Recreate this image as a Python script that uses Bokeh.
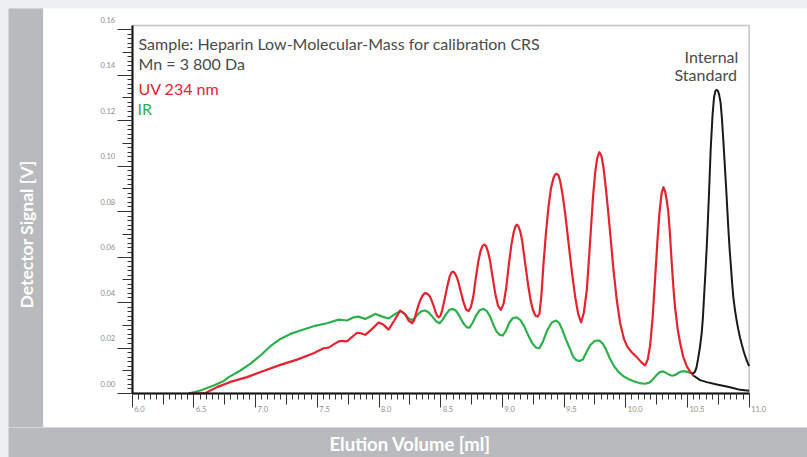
import math
from bokeh.plotting import figure
from bokeh.models import (Range1d, FixedTicker, LinearAxis, Label, LabelSet, ColumnDataSource,
                          BoxAnnotation)
from bokeh.layouts import row, column
from bokeh.embed import file_html
from bokeh.resources import INLINE
from bokeh.core.properties import value

# ---------------- data ----------------
uv_x = [6.456, 6.553, 6.594, 6.688, 6.796, 6.931, 7.063, 7.201, 7.336, 7.470, 7.551, 7.592, 7.630,
        7.673, 7.703, 7.741, 7.776, 7.822, 7.857, 7.889, 7.938, 7.997, 8.035, 8.078, 8.124, 8.172,
        8.213, 8.240, 8.267, 8.285, 8.302, 8.318, 8.334, 8.352, 8.368, 8.383, 8.398, 8.411, 8.423,
        8.440, 8.456, 8.470, 8.483, 8.498, 8.513, 8.533, 8.553, 8.573, 8.588, 8.599, 8.612, 8.627,
        8.642, 8.662, 8.683, 8.705, 8.726, 8.745, 8.764, 8.784, 8.804, 8.822, 8.838, 8.853, 8.868,
        8.885, 8.901, 8.921, 8.942, 8.965, 8.988, 9.010, 9.031, 9.051, 9.071, 9.090, 9.104, 9.117,
        9.130, 9.145, 9.160, 9.185, 9.209, 9.230, 9.249, 9.268, 9.284, 9.300, 9.316, 9.333, 9.353,
        9.373, 9.393, 9.414, 9.428, 9.441, 9.455, 9.468, 9.488, 9.509, 9.529, 9.549, 9.570, 9.590,
        9.614, 9.638, 9.660, 9.684, 9.700, 9.717, 9.734, 9.751, 9.768, 9.786, 9.802, 9.819, 9.839,
        9.859, 9.880, 9.900, 9.927, 9.954, 9.985, 10.013, 10.050, 10.089, 10.125, 10.156, 10.178,
        10.197, 10.217, 10.237, 10.255, 10.272, 10.290, 10.305, 10.320, 10.333, 10.345, 10.358,
        10.372, 10.386, 10.399, 10.420, 10.440, 10.466, 10.494, 10.520, 10.547]
uv_y = [0.0, 0.0001, 0.0002, 0.0028, 0.0051, 0.0072, 0.0099, 0.0126, 0.0149, 0.0177, 0.0199, 0.0202,
        0.0215, 0.0229, 0.0231, 0.0229, 0.0246, 0.0267, 0.0264, 0.0258, 0.0281, 0.0312, 0.0303,
        0.0281, 0.0321, 0.0365, 0.0347, 0.0320, 0.0309, 0.0322, 0.0356, 0.0385, 0.0409, 0.0430,
        0.0440, 0.0441, 0.0436, 0.0428, 0.0414, 0.0390, 0.0362, 0.0342, 0.0335, 0.0342, 0.0368,
        0.0418, 0.0470, 0.0515, 0.0532, 0.0536, 0.0531, 0.0516, 0.0493, 0.0450, 0.0405, 0.0370,
        0.0362, 0.0380, 0.0426, 0.0505, 0.0578, 0.0625, 0.0648, 0.0655, 0.0648, 0.0620, 0.0580,
        0.0510, 0.0440, 0.0385, 0.0368, 0.0395, 0.0465, 0.0560, 0.0648, 0.0705, 0.0733, 0.0742,
        0.0735, 0.0712, 0.0672, 0.0570, 0.0475, 0.0405, 0.0365, 0.0342, 0.0338, 0.0350, 0.0430,
        0.0570, 0.0705, 0.0819, 0.0900, 0.0948, 0.0963, 0.0966, 0.0958, 0.0935, 0.0872, 0.0790,
        0.0695, 0.0600, 0.0505, 0.0425, 0.0350, 0.0313, 0.0355, 0.0455, 0.0580, 0.0720, 0.0860,
        0.0968, 0.1035, 0.1061, 0.1045, 0.0995, 0.0900, 0.0790, 0.0665, 0.0545, 0.0410, 0.0310,
        0.0240, 0.0205, 0.0180, 0.0160, 0.0138, 0.0123, 0.0150, 0.0210, 0.0330, 0.0500, 0.0660,
        0.0790, 0.0880, 0.0907, 0.0885, 0.0845, 0.0795, 0.0700, 0.0575, 0.0465, 0.0380, 0.0285,
        0.0222, 0.0160, 0.0120, 0.0097, 0.0079]

uv_tail_x = [10.547, 10.602, 10.656, 10.737, 10.818, 10.869, 10.926, 11.0]
uv_tail_y = [0.0079, 0.0059, 0.0050, 0.0040, 0.0031, 0.0024, 0.0016, 0.0012]

ir_x = [6.456, 6.553, 6.661, 6.742, 6.782, 6.877, 6.958, 7.039, 7.120, 7.201, 7.282, 7.363, 7.470,
        7.579, 7.673, 7.741, 7.794, 7.832, 7.889, 7.970, 8.027, 8.078, 8.124, 8.172, 8.192, 8.213,
        8.240, 8.267, 8.292, 8.318, 8.345, 8.375, 8.403, 8.432, 8.462, 8.491, 8.518, 8.545, 8.570,
        8.596, 8.620, 8.642, 8.667, 8.691, 8.713, 8.734, 8.760, 8.788, 8.818, 8.847, 8.874, 8.901,
        8.925, 8.950, 8.977, 9.004, 9.030, 9.055, 9.085, 9.117, 9.147, 9.177, 9.210, 9.241, 9.270,
        9.300, 9.330, 9.363, 9.400, 9.436, 9.460, 9.484, 9.515, 9.549, 9.575, 9.598, 9.625, 9.652,
        9.680, 9.711, 9.750, 9.786, 9.815, 9.840, 9.870, 9.905, 9.940, 9.981, 10.020, 10.059,
        10.110, 10.156, 10.190, 10.213, 10.235, 10.253, 10.275, 10.300, 10.322, 10.343, 10.365,
        10.385, 10.405, 10.424, 10.445, 10.466, 10.490, 10.505, 10.534]
ir_y = [0.0, 0.0013, 0.0035, 0.0055, 0.0072, 0.0101, 0.0131, 0.0167, 0.0208, 0.0240, 0.0262, 0.0277,
        0.0296, 0.0309, 0.0325, 0.0321, 0.0335, 0.0338, 0.0328, 0.0350, 0.0338, 0.0330, 0.0347,
        0.0362, 0.0358, 0.0347, 0.0330, 0.0323, 0.0333, 0.0350, 0.0362, 0.0365, 0.0356, 0.0338,
        0.0318, 0.0309, 0.0326, 0.0350, 0.0367, 0.0372, 0.0366, 0.0350, 0.0325, 0.0303, 0.0291,
        0.0289, 0.0312, 0.0345, 0.0367, 0.0372, 0.0362, 0.0338, 0.0305, 0.0275, 0.0258, 0.0255,
        0.0278, 0.0310, 0.0332, 0.0335, 0.0322, 0.0295, 0.0255, 0.0222, 0.0203, 0.0199, 0.0230,
        0.0278, 0.0312, 0.0321, 0.0310, 0.0282, 0.0238, 0.0194, 0.0160, 0.0147, 0.0143, 0.0150,
        0.0180, 0.0212, 0.0232, 0.0233, 0.0218, 0.0193, 0.0155, 0.0120, 0.0095, 0.0076, 0.0064,
        0.0055, 0.0046, 0.0043, 0.0048, 0.0058, 0.0072, 0.0083, 0.0094, 0.0097, 0.0092, 0.0085,
        0.0080, 0.0079, 0.0083, 0.0090, 0.0096, 0.0098, 0.0096, 0.0094, 0.0089]

std_x = [10.534, 10.550, 10.561, 10.573, 10.585, 10.600, 10.615, 10.625, 10.634, 10.645, 10.656,
         10.666, 10.675, 10.688, 10.703, 10.715, 10.726, 10.737, 10.747, 10.756, 10.768, 10.779,
         10.790, 10.801, 10.812, 10.822, 10.831, 10.842, 10.853, 10.862, 10.871, 10.884, 10.897,
         10.911, 10.926, 10.940, 10.954, 10.967, 10.980, 10.990, 11.0]
std_y = [0.0089, 0.0090, 0.0096, 0.0115, 0.0150, 0.0200, 0.0265, 0.0335, 0.0425, 0.0530, 0.0645,
         0.0770, 0.0890, 0.1075, 0.1225, 0.1302, 0.1330, 0.1335, 0.1330, 0.1314, 0.1280, 0.1210,
         0.1115, 0.1015, 0.0915, 0.0815, 0.0725, 0.0630, 0.0550, 0.0483, 0.0425, 0.0370, 0.0325,
         0.0283, 0.0245, 0.0215, 0.0188, 0.0165, 0.0146, 0.0132, 0.0120]

x_major = [6.0, 6.5, 7.0, 7.5, 8.0, 8.5, 9.0, 9.5, 10.0, 10.5, 11.0]
x_labels = ["6.0", "6.5", "7.0", "7.5", "8.0", "8.5", "9.0", "9.5", "10.0", "10.5", "11.0"]
y_major = [0.0, 0.02, 0.04, 0.06, 0.08, 0.10, 0.12, 0.14, 0.16]
y_labels = ["0.00", "0.02", "0.04", "0.06", "0.08", "0.10", "0.12", "0.14", "0.16"]

x_mid = [v + 0.25 for v in x_major[:-1]]
x_minor = [round(6.0 + 0.05 * k, 3) for k in range(101)]
y_mid = [v + 0.01 for v in y_major[:-1]]
y_minor = [round(0.002 * k, 4) for k in range(81)]

RED = "#e52330"
GREEN = "#2db04b"
BLACK = "#1a1a1a"
STRIP = "#b9babd"
TXT = "#4a4a4a"
TICKTXT = "#8c8c8c"
FONT = "Lato"

# axis box (data extent) and its placement inside the white panel
X0, X1 = 6.0, 11.0
Y0, Y1 = 0.0, 0.1618
W, H = 764, 419                    # white panel size
FX, FY = 617, 368                  # axis box size in px
LEFT_PX, BOTTOM_PX = 88.7, 34      # axis box offset inside the panel
kx = FX / (X1 - X0)
ky = FY / (Y1 - Y0)
xr = Range1d(X0 - LEFT_PX / kx, X0 - LEFT_PX / kx + W / kx)
yr = Range1d(Y0 - BOTTOM_PX / ky, Y0 - BOTTOM_PX / ky + H / ky)

# ---------------- main figure ----------------
p = figure(width=W, height=H, x_range=xr, y_range=yr, output_backend="svg",
           toolbar_location=None, min_border=0)
p.xgrid.visible = False
p.ygrid.visible = False
p.outline_line_color = None
p.background_fill_color = "white"
p.border_fill_color = "white"

# frame box (top/right border)
p.add_layout(BoxAnnotation(left=X0, right=X1, bottom=Y0, top=Y1, fill_color=None,
                           line_color="#3a3a3a", line_width=1.5))

for ax, maj, mnr, out, mout, loc, bnd in (
        (p.xaxis[0], x_major, x_minor, 14, 6, Y0, (X0, X1)),
        (p.yaxis[0], y_major, y_minor, 15, 5, X0, (Y0, Y1))):
    ax.fixed_location = loc
    ax.bounds = bnd
    ax.ticker = FixedTicker(ticks=maj, minor_ticks=mnr)
    ax.axis_line_color = "black"
    ax.axis_line_width = 2
    ax.major_tick_line_color = "#333333"
    ax.minor_tick_line_color = "#333333"
    ax.major_tick_out = out
    ax.major_tick_in = 0
    ax.minor_tick_out = mout
    ax.minor_tick_in = 0
    ax.major_label_text_color = None
    ax.major_label_text_font_size = "0px"

def tick_axis(ticks, loc, out):
    return LinearAxis(ticker=FixedTicker(ticks=ticks, minor_ticks=[]), fixed_location=loc,
                      axis_line_color=None, major_tick_out=out, major_tick_in=0,
                      major_tick_line_color="#333333", major_label_text_color=None,
                      major_label_text_font_size="0px")

p.add_layout(tick_axis(x_mid, Y0, 11), "below")
p.add_layout(tick_axis(y_mid, X0, 10), "left")

# tick labels (right of / above their ticks, as in the original)
xsrc = ColumnDataSource(dict(x=x_major, y=[Y0] * len(x_major), t=x_labels))
p.add_layout(LabelSet(x="x", y="y", text="t", source=xsrc, x_offset=2, y_offset=-15,
                      text_align="left", text_baseline="middle", text_color=TICKTXT,
                      text_font=value(FONT), text_font_size=value("7.5px")))
ysrc = ColumnDataSource(dict(x=[X0] * len(y_major), y=y_major, t=y_labels))
p.add_layout(LabelSet(x="x", y="y", text="t", source=ysrc, x_offset=-17, y_offset=10,
                      text_align="right", text_baseline="middle", text_color=TICKTXT,
                      text_font=value(FONT), text_font_size=value("7.5px")))

# curves
p.line(ir_x, ir_y, line_color=GREEN, line_width=2.2, line_join="round")
p.line(uv_x, uv_y, line_color=RED, line_width=2.2, line_join="round")
p.line(uv_tail_x, uv_tail_y, line_color=BLACK, line_width=2.0, line_join="round")
p.line(std_x, std_y, line_color=BLACK, line_width=2.0, line_join="round")

# annotations
def txt(x, y, s, color, size="16px", align="left"):
    p.add_layout(Label(x=x, y=y, text=s, text_color=color, text_font=FONT, text_font_size=size,
                       text_align=align, text_baseline="middle"))

txt(6.051, 0.1541, "Sample: Heparin Low-Molecular-Mass for calibration CRS", TXT)
txt(6.051, 0.1449, "Mn = 3 800 Da", TXT)
txt(6.051, 0.1341, "UV 234 nm", RED)
txt(6.043, 0.1255, "IR", GREEN)
txt(10.476, 0.1481, "Internal", TXT)
txt(10.395, 0.1402, "Standard", TXT)

# ---------------- grey strips ----------------
left = figure(width=35, height=419, x_range=Range1d(0, 35), y_range=Range1d(0, 419),
              output_backend="svg", toolbar_location=None, min_border=0,
              x_axis_type=None, y_axis_type=None)
left.background_fill_color = STRIP
left.border_fill_color = STRIP
left.outline_line_color = None
left.add_layout(Label(x=18, y=119, text="Detector Signal [V]", angle=math.pi / 2,
                      text_align="left", text_baseline="middle", text_color="white",
                      text_font=FONT, text_font_size="17.5px", text_font_style="bold"))

bottom = figure(width=799, height=30, x_range=Range1d(0, 799), y_range=Range1d(0, 30),
                output_backend="svg", toolbar_location=None, min_border=0,
                x_axis_type=None, y_axis_type=None)
bottom.background_fill_color = STRIP
bottom.border_fill_color = STRIP
bottom.outline_line_color = None
bottom.add_layout(Label(x=321, y=14, text="Elution Volume [ml]", text_align="left",
                        text_baseline="middle", text_color="white", text_font=FONT,
                        text_font_size="18.5px", text_font_style="bold"))

layout = column(row(left, p), bottom)

html = file_html(layout, INLINE)
style = ("<style>html,body{margin:0 !important;padding:0 !important;}"
         "body{padding:8px 0 0 8px !important;background:#eff0f2;overflow:hidden;"
         "box-sizing:border-box;}</style>")
html = html.replace("</head>", style + "</head>", 1)
open("out.html", "w").write(html)
